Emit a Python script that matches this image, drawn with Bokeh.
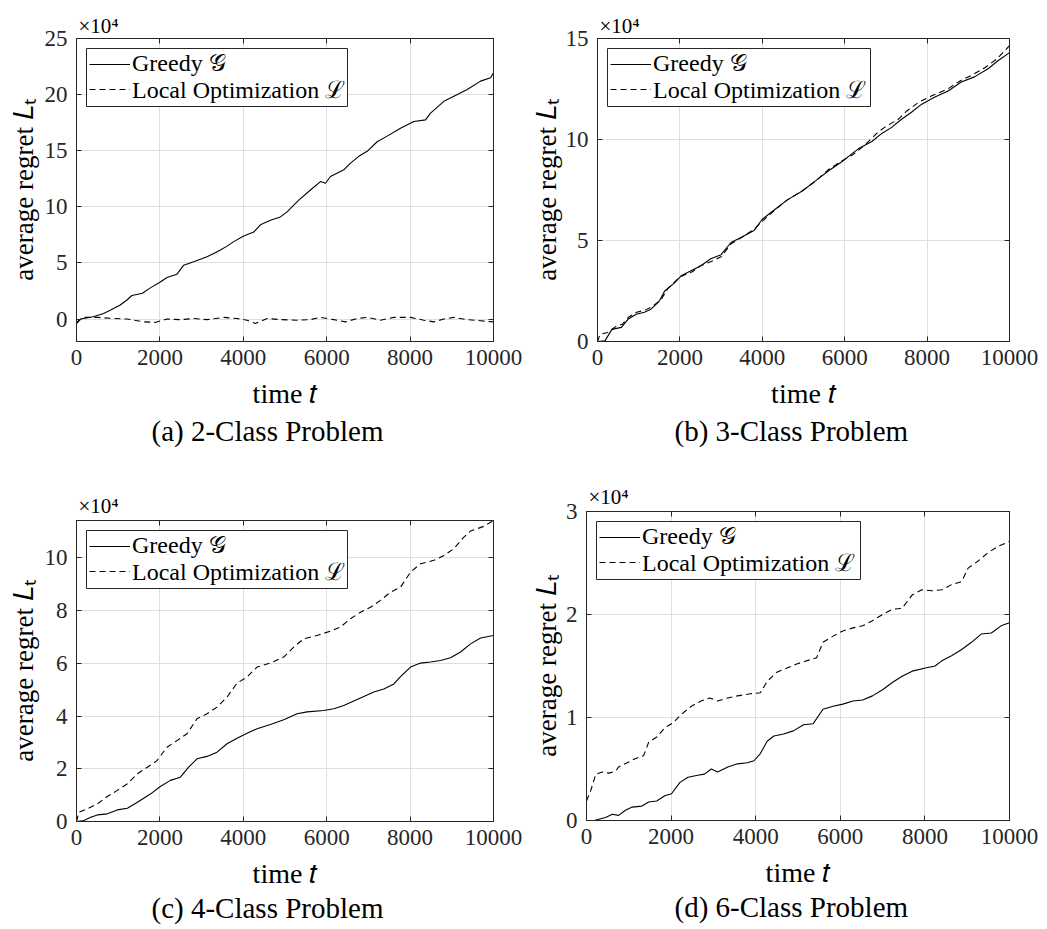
from bokeh.plotting import figure
from bokeh.layouts import column, row
from bokeh.models import (FixedTicker, LinearAxis, Range1d, Title, Legend, LegendItem,
                          BoxAnnotation, CustomJSTickFormatter, BasicTickFormatter)
from bokeh.embed import file_html
from bokeh.resources import INLINE

# ---------------- data (values in units of 10^4) ----------------
x_ticks = [0, 2000, 4000, 6000, 8000, 10000]

# (a) 2-Class Problem
a_t_greedy = [0, 100, 400, 650, 820, 1050, 1210, 1330, 1580, 1780, 2010, 2170, 2410, 2570, 2810,
              3130, 3290, 3450, 3610, 3770, 4010, 4250, 4410, 4650, 4890, 5050, 5210, 5330, 5610,
              5850, 5970, 6090, 6410, 6570, 6770, 6970, 7210, 7450, 7770, 8090, 8370, 8490, 8810,
              9050, 9370, 9690, 9930, 10000]
a_greedy = [-0.4, 0.0, 0.2, 0.5, 0.8, 1.25, 1.7, 2.1, 2.3, 2.8, 3.3, 3.7, 4.0, 4.8, 5.1,
            5.55, 5.85, 6.15, 6.5, 6.9, 7.4, 7.75, 8.4, 8.8, 9.1, 9.55, 10.15, 10.6, 11.5,
            12.25, 12.1, 12.7, 13.3, 13.9, 14.5, 14.95, 15.8, 16.3, 17.0, 17.6, 17.75, 18.35, 19.4,
            19.85, 20.45, 21.2, 21.5, 21.95]
a_t_local = [0, 60, 180, 500, 900, 1220, 1620, 1890, 2170, 2490, 2810, 3130, 3530, 3850, 4090,
             4290, 4570, 4890, 5290, 5610, 5850, 6170, 6450, 6730, 6970, 7290, 7610, 8010, 8330,
             8570, 8810, 9050, 9370, 9690, 10000]
a_local = [-0.35, -0.1, 0.15, 0.15, 0.05, 0.0, -0.25, -0.3, 0.0, -0.05, 0.05, -0.05, 0.15, 0.05, -0.1,
           -0.4, 0.05, -0.05, -0.1, -0.05, 0.15, -0.05, -0.25, 0.05, 0.15, -0.1, 0.15, 0.15, -0.1,
           -0.25, 0.0, 0.15, -0.05, -0.15, -0.25]
a_yticks = [0, 5, 10, 15, 20, 25]

# (b) 3-Class Problem
b_t_greedy = [0, 180, 350, 580, 740, 940, 1140, 1300, 1500, 1630, 1870, 2030, 2270, 2510, 2750,
              3000, 3240, 3480, 3800, 4000, 4280, 4600, 4970, 5290, 5610, 5930, 6180, 6340, 6660,
              6900, 7140, 7380, 7620, 7870, 8190, 8510, 8830, 9150, 9480, 9720, 10000]
b_greedy = [0.0, 0.03, 0.6, 0.7, 1.1, 1.35, 1.45, 1.6, 2.0, 2.5, 2.9, 3.25, 3.5, 3.75, 4.1,
            4.3, 4.9, 5.15, 5.5, 6.05, 6.5, 7.0, 7.45, 7.95, 8.45, 8.9, 9.3, 9.55, 9.9,
            10.3, 10.6, 11.0, 11.35, 11.75, 12.1, 12.4, 12.85, 13.1, 13.5, 13.9, 14.3]
b_t_local = [0, 60, 250, 450, 600, 750, 950, 1150, 1350, 1550, 1700, 2000, 2300, 2500, 2750,
             3000, 3250, 3500, 3800, 4000, 4300, 4600, 5000, 5300, 5600, 5900, 6200, 6500, 6800,
             7000, 7300, 7500, 7800, 8100, 8500, 8800, 9100, 9400, 9700, 10000]
b_local = [0.0, 0.35, 0.45, 0.75, 0.85, 1.2, 1.45, 1.55, 1.75, 2.1, 2.6, 3.2, 3.45, 3.75, 3.95,
           4.2, 4.85, 5.15, 5.55, 5.95, 6.5, 7.0, 7.5, 7.95, 8.5, 8.9, 9.25, 9.75, 10.35,
           10.65, 11.0, 11.4, 11.85, 12.15, 12.5, 12.9, 13.2, 13.55, 14.0, 14.65]
b_yticks = [0, 5, 10, 15]

# (c) 4-Class Problem
c_t_greedy = [0, 180, 340, 500, 740, 980, 1220, 1460, 1780, 2010, 2250, 2490, 2690, 2890, 3130,
              3370, 3610, 3850, 4090, 4330, 4650, 4970, 5290, 5530, 5930, 6170, 6410, 6650, 6890,
              7130, 7370, 7610, 7770, 8010, 8250, 8490, 8730, 8970, 9210, 9450, 9690, 10000]
c_greedy = [0.0, 0.04, 0.16, 0.25, 0.29, 0.44, 0.5, 0.73, 1.05, 1.33, 1.56, 1.68, 2.06, 2.38, 2.47,
            2.63, 2.95, 3.16, 3.35, 3.52, 3.68, 3.86, 4.09, 4.16, 4.21, 4.28, 4.4, 4.57, 4.74,
            4.91, 5.03, 5.22, 5.5, 5.86, 6.01, 6.05, 6.11, 6.21, 6.43, 6.74, 6.96, 7.06]
c_t_local = [0, 60, 260, 500, 740, 980, 1220, 1460, 1700, 1930, 2170, 2410, 2650, 2890, 3130,
             3370, 3610, 3850, 4090, 4330, 4650, 4970, 5210, 5450, 5770, 6090, 6330, 6570, 6810,
             7050, 7290, 7530, 7770, 8010, 8250, 8570, 8810, 9050, 9290, 9450, 9770, 10000]
c_local = [0.0, 0.35, 0.48, 0.67, 0.95, 1.18, 1.43, 1.81, 2.06, 2.31, 2.82, 3.07, 3.33, 3.9, 4.09,
           4.34, 4.72, 5.25, 5.48, 5.86, 6.01, 6.24, 6.62, 6.93, 7.06, 7.22, 7.38, 7.69, 7.94,
           8.13, 8.39, 8.7, 8.89, 9.46, 9.78, 9.91, 10.09, 10.35, 10.79, 11.02, 11.2, 11.42]
c_yticks = [0, 2, 4, 6, 8, 10]

# (d) 6-Class Problem
d_t_greedy = [180, 450, 610, 760, 920, 1080, 1310, 1470, 1660, 1850, 2010, 2210, 2400, 2630, 2790,
              2950, 3100, 3340, 3570, 3800, 3960, 4110, 4270, 4430, 4660, 4890, 5130, 5360, 5590,
              5830, 6060, 6300, 6530, 6760, 7000, 7230, 7460, 7700, 8010, 8240, 8400, 8630, 8870,
              9100, 9330, 9570, 9800, 10000]
d_greedy = [0.0, 0.03, 0.06, 0.05, 0.1, 0.13, 0.14, 0.18, 0.19, 0.24, 0.26, 0.37, 0.42, 0.44, 0.45,
            0.5, 0.47, 0.52, 0.55, 0.56, 0.58, 0.65, 0.77, 0.82, 0.84, 0.87, 0.93, 0.94, 1.08,
            1.11, 1.13, 1.16, 1.17, 1.21, 1.27, 1.34, 1.4, 1.45, 1.48, 1.5, 1.55, 1.6, 1.66,
            1.73, 1.81, 1.82, 1.89, 1.92]
d_t_local = [0, 100, 220, 370, 530, 690, 760, 960, 1150, 1350, 1470, 1660, 1850, 2050, 2240,
             2480, 2710, 2910, 3100, 3340, 3570, 3880, 4110, 4270, 4500, 4740, 4970, 5200, 5440,
             5590, 5830, 6060, 6300, 6530, 6760, 7000, 7230, 7460, 7700, 7930, 8170, 8400, 8630,
             8870, 9020, 9260, 9490, 9720, 10000]
d_local = [0.19, 0.29, 0.45, 0.47, 0.46, 0.48, 0.52, 0.56, 0.6, 0.63, 0.76, 0.81, 0.9, 0.95, 1.03,
           1.11, 1.16, 1.19, 1.16, 1.19, 1.21, 1.23, 1.24, 1.35, 1.44, 1.48, 1.52, 1.55, 1.58,
           1.73, 1.79, 1.84, 1.87, 1.89, 1.94, 2.0, 2.05, 2.06, 2.19, 2.24, 2.23, 2.24, 2.29,
           2.32, 2.45, 2.52, 2.6, 2.66, 2.71]
d_yticks = [0, 1, 2, 3]

legend_labels = ["Greedy \U0001D4A2", "Local Optimization \u2112"]
captions = ["(a) 2-Class Problem", "(b) 3-Class Problem", "(c) 4-Class Problem", "(d) 6-Class Problem"]
x_label = "time \U0001D461"
y_label = "average regret \U0001D43F\u209C"
multiplier = "\u00d710\u2074"

# ---------------- styling ----------------
FONT = "Liberation Serif"
AX = "#262626"
GRID = "#dfdfdf"
ROW_H = 32  # measured height of one legend row


def panel(width, height, borders, y_range, yticks, tg, vg, tl, vl,
          caption, cap_off, ylab_standoff, mult_standoff, cap_standoff, box_w):
    bl, br, bt, bb = borders
    fh = height - bt - bb
    p = figure(width=width, height=height, output_backend="svg", toolbar_location=None,
               x_range=Range1d(0, 10000), y_range=Range1d(*y_range),
               min_border_left=bl, min_border_right=br, min_border_top=bt, min_border_bottom=bb,
               background_fill_color="white", border_fill_color="white")
    p.outline_line_color = AX
    p.outline_line_width = 1

    for ax in (p.xaxis[0], p.yaxis[0]):
        ax.major_tick_in = 5
        ax.major_tick_out = 0
        ax.minor_tick_line_color = None
        ax.axis_line_color = AX
        ax.major_tick_line_color = AX
        ax.major_label_text_font = FONT
        ax.major_label_text_font_size = "23px"
        ax.major_label_text_color = AX
        ax.axis_label_text_font = FONT
        ax.axis_label_text_font_style = "normal"
        ax.axis_label_text_color = "black"
    p.xaxis[0].ticker = FixedTicker(ticks=x_ticks)
    p.xaxis[0].formatter = BasicTickFormatter(use_scientific=False)
    p.xaxis[0].major_label_standoff = 8
    p.xaxis[0].axis_label = x_label
    p.xaxis[0].axis_label_text_font_size = "28px"
    p.xaxis[0].axis_label_standoff = 10
    p.yaxis[0].ticker = FixedTicker(ticks=yticks)
    p.yaxis[0].major_label_standoff = 9
    p.yaxis[0].axis_label = y_label
    p.yaxis[0].axis_label_text_font_size = "27px"
    p.yaxis[0].axis_label_standoff = ylab_standoff

    for side, ticks in (("above", x_ticks), ("right", yticks)):
        ax = LinearAxis(ticker=FixedTicker(ticks=ticks),
                        formatter=CustomJSTickFormatter(code="return ''"),
                        major_tick_in=5, major_tick_out=0, minor_tick_line_color=None,
                        axis_line_color=AX, major_tick_line_color=AX,
                        major_label_standoff=0, major_label_text_font_size="1px")
        p.add_layout(ax, side)

    p.add_layout(Title(text=multiplier, align="left", offset=2, vertical_align="bottom",
                       standoff=mult_standoff, text_font=FONT, text_font_size="21px",
                       text_font_style="normal", text_color="black"), "above")
    p.add_layout(Title(text=caption, align="left", offset=cap_off, vertical_align="top",
                       standoff=cap_standoff, text_font=FONT, text_font_size="29px",
                       text_font_style="normal", text_color="black"), "below")

    p.xgrid.ticker = FixedTicker(ticks=x_ticks)
    p.ygrid.ticker = FixedTicker(ticks=yticks)
    p.xgrid.grid_line_color = GRID
    p.ygrid.grid_line_color = GRID

    r1 = p.line(tg, vg, line_color="black", line_width=1.1)
    r2 = p.line(tl, vl, line_color="black", line_width=1.1, line_dash="6 4")

    # legend frame
    p.add_layout(BoxAnnotation(left=10, right=10 + box_w, top=fh - 10, bottom=fh - 68,
                               left_units="screen", right_units="screen",
                               top_units="screen", bottom_units="screen",
                               fill_color="white", fill_alpha=1.0,
                               line_color=AX, line_width=1, line_alpha=1.0))
    # one legend per row so rows can sit closer than Bokeh's default row height
    for r, text, top in ((r1, legend_labels[0], 7), (r2, legend_labels[1], 35)):
        lg = Legend(items=[LegendItem(label=text, renderers=[r])],
                    location=(13, fh - top - ROW_H), padding=0, spacing=0, margin=0,
                    glyph_width=41, glyph_height=20, label_standoff=2, label_height=20,
                    label_text_font=FONT, label_text_font_size="24px",
                    label_text_color="black", border_line_color=None,
                    background_fill_alpha=0.0)
        p.add_layout(lg)
    return p


pa = panel(528, 460, (76, 35, 38, 119), (-2, 25), a_yticks,
           a_t_greedy, a_greedy, a_t_local, a_local, captions[0], 75, 3, 1, 7, 261)
pb = panel(519, 460, (65, 38, 38, 119), (0, 15), b_yticks,
           b_t_greedy, b_greedy, b_t_local, b_local, captions[1], 77, 1, 1, 7, 263)
pc = panel(528, 469, (76, 35, 60, 108), (0, 11.42), c_yticks,
           c_t_greedy, c_greedy, c_t_local, c_local, captions[2], 75, 3, 5, 1, 261)
pd = panel(519, 469, (54, 38, 51, 109), (0, 3), d_yticks,
           d_t_greedy, d_greedy, d_t_local, d_local, captions[3], 88, 1, 5, 1, 264)

layout = column(row(pa, pb), row(column(pc), column(pd)))
open("out.html", "w").write(file_html(layout, INLINE))
